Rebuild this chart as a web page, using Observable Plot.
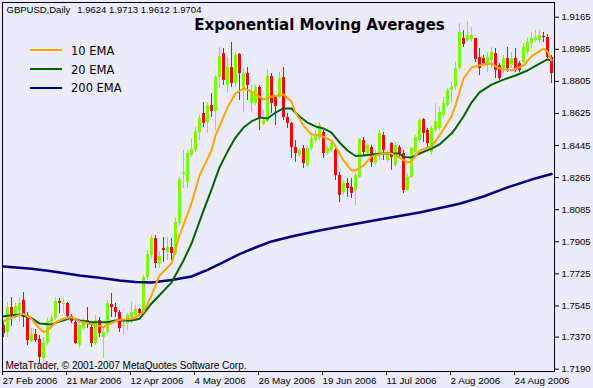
<!DOCTYPE html>
<html><head><meta charset="utf-8">
<script src="https://cdn.jsdelivr.net/npm/d3@7"></script>
<script src="https://cdn.jsdelivr.net/npm/@observablehq/plot@0.6"></script>
<style>
html,body{margin:0;padding:0;background:#EBEBFA;}
#chart{position:relative;width:593px;height:388px;overflow:hidden;}
</style></head><body><div id="chart"></div>
<script>
// ---- tick labels ----
const tickIdx = [0, 16, 32, 48, 64, 80, 96, 112, 128];
const tickDates = ["27 Feb 2006", "21 Mar 2006", "12 Apr 2006", "4 May 2006", "26 May 2006", "19 Jun 2006", "11 Jul 2006", "2 Aug 2006", "24 Aug 2006"];
const priceTicks = [1.9165, 1.8985, 1.8805, 1.8625, 1.8445, 1.8265, 1.8085, 1.7905, 1.7725, 1.7545, 1.7370, 1.7190];
const symbol = "GBPUSD,Daily";
const headerValues = ["1.9624", "1.9713", "1.9612", "1.9704"];
const titleText = "Exponential Moving Averages";
const legendLabels = ["10 EMA", "20 EMA", "200 EMA"];
const copyright = "MetaTrader, © 2001-2007 MetaQuotes Software Corp.";

// ---- daily candles (bar index 0 = 27 Feb 2006) ----
const open = [
1.7435,1.7396,1.7536,1.7497,1.7519,1.7576,1.7491,1.7345,1.7385,1.7357,
1.7250,1.7334,1.7452,1.7475,1.7570,1.7553,1.7559,1.7486,1.7452,1.7323,
1.7418,1.7463,1.7424,1.7334,1.7463,1.7368,1.7396,1.7553,1.7536,1.7508,
1.7430,1.7446,1.7480,1.7491,1.7525,1.7503,1.7705,1.7828,1.7923,1.7783,
1.7867,1.7845,1.7873,1.7839,1.8008,1.8282,1.8238,1.8389,1.8417,1.8518,
1.8625,1.8574,1.8670,1.8636,1.8827,1.8961,1.8782,1.8883,1.8793,1.8956,
1.8765,1.8849,1.8681,1.8681,1.8771,1.8563,1.8580,1.8832,1.8714,1.8714,
1.8827,1.8602,1.8569,1.8434,1.8389,1.8428,1.8333,1.8428,1.8473,1.8484,
1.8518,1.8400,1.8417,1.8417,1.8277,1.8181,1.8232,1.8210,1.8193,1.8266,
1.8473,1.8400,1.8434,1.8344,1.8389,1.8501,1.8361,1.8456,1.8333,1.8434,
1.8400,1.8193,1.8266,1.8406,1.8473,1.8591,1.8529,1.8406,1.8529,1.8541,
1.8614,1.8670,1.8754,1.8771,1.8877,1.9046,1.9034,1.9040,1.9046,1.8939,
1.8933,1.8894,1.8922,1.8961,1.8894,1.8877,1.8933,1.8894,1.8933,1.8905,
1.8911,1.8967,1.9017,1.9034,1.9034,1.9057,1.9051,1.8939];
const high = [
1.7458,1.7564,1.7592,1.7559,1.7587,1.7620,1.7508,1.7418,1.7413,1.7379,
1.7368,1.7475,1.7491,1.7592,1.7587,1.7587,1.7564,1.7497,1.7475,1.7446,
1.7475,1.7536,1.7446,1.7491,1.7480,1.7418,1.7576,1.7615,1.7559,1.7519,
1.7463,1.7503,1.7564,1.7547,1.7531,1.7716,1.7856,1.7940,1.7940,1.7850,
1.7929,1.7929,1.7923,1.8041,1.8266,1.8417,1.8417,1.8484,1.8546,1.8614,
1.8686,1.8686,1.8737,1.8838,1.8995,1.8989,1.8939,1.9023,1.8961,1.8961,
1.8877,1.8883,1.8782,1.8782,1.8782,1.8642,1.8872,1.8849,1.8726,1.8855,
1.8883,1.8625,1.8574,1.8473,1.8428,1.8445,1.8445,1.8513,1.8529,1.8574,
1.8529,1.8445,1.8473,1.8434,1.8294,1.8249,1.8260,1.8260,1.8288,1.8484,
1.8490,1.8456,1.8445,1.8417,1.8529,1.8518,1.8417,1.8462,1.8462,1.8445,
1.8417,1.8288,1.8434,1.8501,1.8597,1.8597,1.8541,1.8552,1.8681,1.8658,
1.8715,1.8765,1.8799,1.8911,1.9130,1.9090,1.9141,1.9107,1.9046,1.8989,
1.8950,1.8967,1.8995,1.8989,1.8905,1.8950,1.8995,1.8967,1.8989,1.8916,
1.9017,1.9046,1.9079,1.9090,1.9090,1.9079,1.9068,1.8950];
const low = [
1.7368,1.7368,1.7430,1.7480,1.7452,1.7424,1.7323,1.7340,1.7340,1.7222,
1.7228,1.7323,1.7435,1.7463,1.7503,1.7503,1.7463,1.7446,1.7329,1.7306,
1.7407,1.7418,1.7312,1.7323,1.7368,1.7250,1.7385,1.7480,1.7480,1.7396,
1.7379,1.7407,1.7446,1.7486,1.7497,1.7491,1.7688,1.7811,1.7755,1.7755,
1.7789,1.7800,1.7800,1.7828,1.7996,1.8204,1.8204,1.8378,1.8406,1.8473,
1.8546,1.8513,1.8602,1.8529,1.8765,1.8782,1.8743,1.8771,1.8771,1.8698,
1.8630,1.8698,1.8630,1.8670,1.8529,1.8557,1.8574,1.8625,1.8557,1.8709,
1.8585,1.8541,1.8372,1.8350,1.8378,1.8316,1.8322,1.8417,1.8462,1.8473,
1.8372,1.8389,1.8406,1.8249,1.8125,1.8165,1.8153,1.8148,1.8109,1.8260,
1.8389,1.8383,1.8322,1.8333,1.8361,1.8361,1.8350,1.8305,1.8322,1.8372,
1.8176,1.8187,1.8260,1.8395,1.8462,1.8462,1.8434,1.8389,1.8518,1.8529,
1.8597,1.8658,1.8686,1.8754,1.8866,1.8995,1.9023,1.9023,1.8911,1.8838,
1.8894,1.8855,1.8877,1.8821,1.8810,1.8849,1.8855,1.8877,1.8855,1.8855,
1.8905,1.8950,1.8989,1.9023,1.9023,1.9023,1.8933,1.8793];
const close = [
1.7390,1.7536,1.7491,1.7542,1.7559,1.7480,1.7351,1.7385,1.7351,1.7256,
1.7334,1.7458,1.7475,1.7570,1.7559,1.7559,1.7486,1.7458,1.7334,1.7435,
1.7463,1.7446,1.7334,1.7463,1.7390,1.7396,1.7559,1.7536,1.7508,1.7418,
1.7435,1.7491,1.7508,1.7525,1.7503,1.7705,1.7834,1.7923,1.7783,1.7822,
1.7856,1.7873,1.7839,1.8013,1.8254,1.8294,1.8400,1.8423,1.8524,1.8597,
1.8569,1.8670,1.8636,1.8827,1.8945,1.8810,1.8883,1.8793,1.8950,1.8849,
1.8849,1.8782,1.8743,1.8771,1.8597,1.8585,1.8832,1.8681,1.8664,1.8821,
1.8602,1.8569,1.8434,1.8400,1.8417,1.8344,1.8428,1.8484,1.8501,1.8557,
1.8400,1.8428,1.8456,1.8277,1.8165,1.8232,1.8204,1.8176,1.8277,1.8479,
1.8406,1.8445,1.8350,1.8400,1.8513,1.8417,1.8406,1.8378,1.8445,1.8400,
1.8193,1.8266,1.8428,1.8490,1.8585,1.8513,1.8456,1.8541,1.8580,1.8630,
1.8681,1.8754,1.8771,1.8877,1.9079,1.9012,1.9062,1.9062,1.8928,1.8877,
1.8905,1.8939,1.8967,1.8866,1.8821,1.8933,1.8877,1.8933,1.8866,1.8866,
1.8995,1.9023,1.9046,1.9051,1.9062,1.9051,1.8939,1.8849];

// ---- moving averages (bar index, price) ----
const ema10Idx = [0,3,5,7,9,10,11,13,15,17,19,21,24,25,27,29,32,33,35,37,39,42,44,47,49,52,53,56,58,60,62,65,67,70,72,73,75,77,79,82,83,85,87,88,90,92,95,97,99,101,102,104,107,109,112,113,115,117,119,122,124,127,130,132,135,136,137];
const ema10 = [1.7459,1.7486,1.7501,1.7472,1.7418,1.7399,1.7407,1.7452,1.7473,1.7482,1.7458,1.7448,1.7432,1.7426,1.7449,1.7467,1.7473,1.7480,1.7510,1.7604,1.7716,1.7783,1.7940,1.8120,1.8277,1.8417,1.8501,1.8658,1.8737,1.8765,1.8748,1.8703,1.8720,1.8731,1.8692,1.8630,1.8557,1.8507,1.8504,1.8473,1.8440,1.8361,1.8305,1.8305,1.8333,1.8383,1.8400,1.8400,1.8378,1.8350,1.8355,1.8417,1.8440,1.8501,1.8608,1.8670,1.8821,1.8883,1.8894,1.8905,1.8877,1.8866,1.8894,1.8945,1.8989,1.8973,1.8922];
const ema20Idx = [0,4,7,9,12,14,17,19,22,26,28,32,34,37,42,45,47,50,52,54,56,58,60,62,64,66,68,70,72,74,76,78,80,82,84,86,88,90,92,95,99,100,102,104,107,109,112,113,115,117,119,122,125,128,131,134,136,137];
const ema20 = [1.7487,1.7497,1.7477,1.7446,1.7441,1.7458,1.7478,1.7463,1.7454,1.7454,1.7463,1.7463,1.7473,1.7559,1.7676,1.7800,1.7895,1.8080,1.8198,1.8322,1.8411,1.8490,1.8546,1.8580,1.8602,1.8597,1.8630,1.8653,1.8653,1.8608,1.8574,1.8552,1.8541,1.8518,1.8462,1.8417,1.8386,1.8389,1.8395,1.8400,1.8400,1.8381,1.8378,1.8400,1.8428,1.8451,1.8512,1.8541,1.8608,1.8686,1.8743,1.8787,1.8815,1.8838,1.8866,1.8905,1.8928,1.8922];
const ema200Idx = [0,7,12,19,24,29,33,37,42,47,51,55,59,63,67,72,79,85,94,104,114,120,126,132,137];
const ema200 = [1.7766,1.7753,1.7740,1.7716,1.7703,1.7688,1.7679,1.7677,1.7691,1.7710,1.7747,1.7791,1.7836,1.7873,1.7907,1.7935,1.7968,1.7994,1.8030,1.8069,1.8118,1.8159,1.8210,1.8254,1.8285];

const UP = "#7CFC00", DOWN = "#FF0000";
const C10 = "#FFA500", C20 = "#006400", C200 = "#000080";
const BG = "#EBEBFA";

const bars = open.map((o, i) => ({i, open: o, high: high[i], low: low[i], close: close[i]}));
const upBars = bars.filter(d => d.close >= d.open);
const downBars = bars.filter(d => d.close < d.open);
const series = (idx, vals) => idx.map((i, k) => ({i, v: vals[k]}));

const chart = Plot.plot({
  width: 593, height: 388,
  marginLeft: 2, marginRight: 39, marginTop: 2, marginBottom: 17,
  style: {background: BG, fontFamily: "'Liberation Sans', Arial, sans-serif", fontSize: "9.5px", color: "#000", overflow: "visible"},
  x: {type: "linear", domain: [-0.25, 137.75], axis: null},
  y: {type: "linear", domain: [1.71771, 1.92475], axis: null},
  marks: [
    Plot.ruleX(upBars, {x: "i", y1: "low", y2: "high", stroke: UP, strokeWidth: 1}),
    Plot.ruleX(upBars, {x: "i", y1: "open", y2: "close", stroke: UP, strokeWidth: 3}),
    Plot.ruleX(downBars, {x: "i", y1: "low", y2: "high", stroke: DOWN, strokeWidth: 1}),
    Plot.ruleX(downBars, {x: "i", y1: "open", y2: "close", stroke: DOWN, strokeWidth: 3}),
    Plot.line(series(ema200Idx, ema200), {x: "i", y: "v", stroke: C200, strokeWidth: 2.5}),
    Plot.line(series(ema20Idx, ema20), {x: "i", y: "v", stroke: C20, strokeWidth: 2}),
    Plot.line(series(ema10Idx, ema10), {x: "i", y: "v", stroke: C10, strokeWidth: 2}),
    Plot.frame({stroke: "#000"}),
    Plot.axisY({ticks: priceTicks, anchor: "right", tickSize: 4, tickPadding: 3, tickFormat: d => d.toFixed(4), label: null, stroke: "#000", fill: "#000"}),
    Plot.axisX({ticks: tickIdx, anchor: "bottom", tickSize: 4, tickPadding: 2, tickFormat: d => tickDates[tickIdx.indexOf(d)], textAnchor: "start", dx: -1, label: null, stroke: "#000", fill: "#000", fontSize: "9.8px"})
  ]
});
document.getElementById("chart").appendChild(chart);

// ---- annotations (header, title, legend, copyright) ----
const svg = d3.select(chart);
const g = svg.append("g").attr("fill", "#000").attr("text-anchor", "start");
g.append("text").attr("x", 6.5).attr("y", 13.3).attr("font-size", "9.5px").text(symbol);
g.append("text").attr("x", 77.3).attr("y", 13.3).attr("font-size", "9.5px").text(headerValues.join(" "));
g.append("text").attr("x", 319.5).attr("y", 30).attr("text-anchor", "middle")
  .attr("font-family", "'DejaVu Sans', Verdana, sans-serif").attr("font-weight", "bold").attr("font-size", "15px").text(titleText);
const legendColors = [C10, C20, C200];
const legendY = [50, 69, 88];
const legendBase = [55, 73.5, 92];
legendLabels.forEach((lab, k) => {
  g.append("line").attr("x1", 30).attr("x2", 62).attr("y1", legendY[k]).attr("y2", legendY[k])
    .attr("stroke", legendColors[k]).attr("stroke-width", 2);
  g.append("text").attr("x", 71).attr("y", legendBase[k]).attr("font-family", "'DejaVu Sans', Verdana, sans-serif")
    .attr("font-size", "11.5px").text(lab);
});
g.append("text").attr("x", 5.5).attr("y", 369).attr("font-size", "10px").text(copyright);
</script></body></html>
